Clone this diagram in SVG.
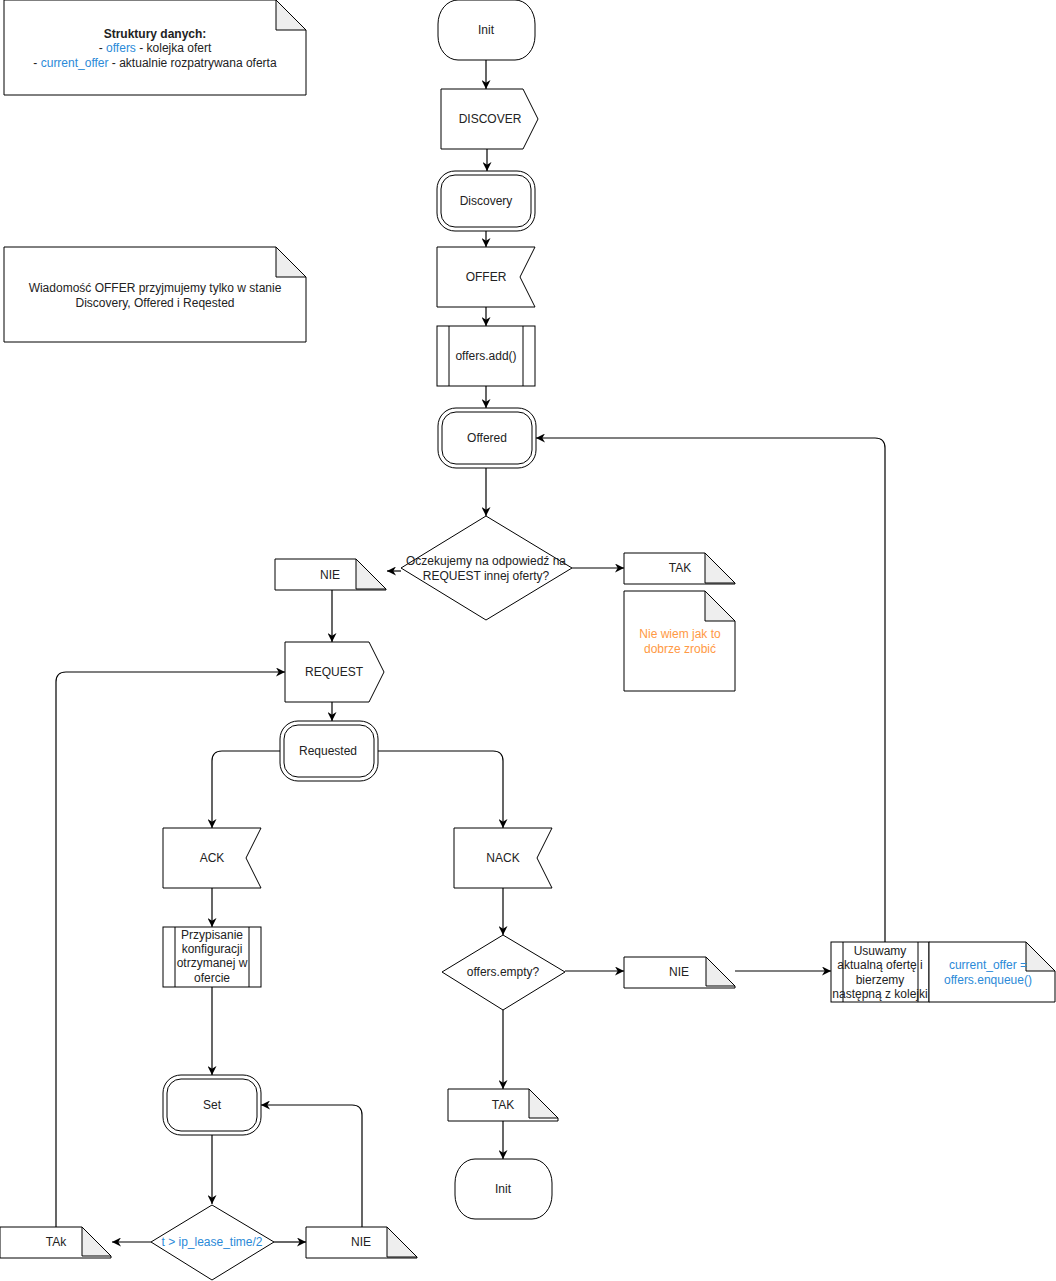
<svg xmlns="http://www.w3.org/2000/svg" width="1056" height="1281" viewBox="0 0 1056 1281">
<defs>
<marker id="arr" viewBox="0 0 10 10" refX="10" refY="5" markerWidth="9" markerHeight="9" orient="auto" markerUnits="userSpaceOnUse"><path d="M0,0 L10,5 L0,10 L3,5 z" fill="#000"/></marker>
</defs>
<style>
.s{fill:#fff;stroke:#000;stroke-width:1}
.fold{fill:#eee;stroke:#000;stroke-width:1}
.ln{fill:none;stroke:#000;stroke-width:1}
.c{fill:none;stroke:#000;stroke-width:1.2;marker-end:url(#arr)}
text{font-family:"Liberation Sans",Arial,sans-serif;font-size:12px;fill:#222;text-anchor:middle;dominant-baseline:middle;transform:translateY(1px)}
.b{font-weight:bold}
.blue{fill:#2B8AD8}
.or{fill:#FF9944}
</style>
<rect width="1056" height="1281" fill="#fff"/>

<g id="connectors">
<path class="c" d="M486,60 V89"/>
<path class="c" d="M487,149 V171"/>
<path class="c" d="M486,231 V247"/>
<path class="c" d="M486,307 V326"/>
<path class="c" d="M486,386 V408"/>
<path class="c" d="M486,468 V516"/>
<path class="c" d="M401,571 H387"/>
<path class="c" d="M572,568 H624"/>
<path class="c" d="M332,589 V642"/>
<path class="c" d="M332,702 V721"/>
<path class="c" d="M280,751 H222 Q212,751 212,761 V828"/>
<path class="c" d="M378,751 H493 Q503,751 503,761 V828"/>
<path class="c" d="M212,888 V927"/>
<path class="c" d="M212,987 V1075"/>
<path class="c" d="M212,1135 V1204"/>
<path class="c" d="M151,1242 H112"/>
<path class="c" d="M274,1242 H306"/>
<path class="c" d="M362,1227 V1115 Q362,1105 352,1105 H261"/>
<path class="c" d="M56,1227 V682 Q56,672 66,672 H285"/>
<path class="c" d="M503,888 V935"/>
<path class="c" d="M565,971 H624"/>
<path class="c" d="M735,971 H831"/>
<path class="c" d="M885,942 V448 Q885,438 875,438 H536"/>
<path class="c" d="M503,1010 V1089"/>
<path class="c" d="M503,1121 V1159"/>
</g>

<g id="note-struktury">
<path class="s" d="M4,0 H276 L306,30 V95 H4 Z"/>
<path class="fold" d="M276,0 V30 H306 Z"/>
<text x="155" y="34" class="b">Struktury danych:</text>
<text x="155" y="48">- <tspan class="blue">offers</tspan> - kolejka ofert</text>
<text x="155" y="63">- <tspan class="blue">current_offer</tspan> - aktualnie rozpatrywana oferta</text>
</g>

<g id="note-wiadomosc">
<path class="s" d="M4,247 H276 L306,277 V342 H4 Z"/>
<path class="fold" d="M276,247 V277 H306 Z"/>
<text x="155" y="288">Wiadomość OFFER przyjmujemy tylko w stanie</text>
<text x="155" y="303">Discovery, Offered i Reqested</text>
</g>

<g id="init-top">
<rect class="s" x="438" y="0" width="97" height="60" rx="20" ry="24"/>
<text x="486" y="30">Init</text>
</g>

<g id="discover">
<path class="s" d="M441,89 H523 L538,119 L523,149 H441 Z"/>
<text x="490" y="119">DISCOVER</text>
</g>

<g id="discovery">
<rect class="s" x="437" y="171" width="98" height="60" rx="18" ry="18"/>
<rect class="s" x="441" y="175" width="90" height="52" rx="14" ry="14"/>
<text x="486" y="201">Discovery</text>
</g>

<g id="offer">
<path class="s" d="M437,247 H535 L520,277 L535,307 H437 Z"/>
<text x="486" y="277">OFFER</text>
</g>

<g id="offers-add">
<rect class="s" x="437" y="326" width="98" height="60"/>
<path class="ln" d="M449,326 V386 M523,326 V386"/>
<text x="486" y="356">offers.add()</text>
</g>

<g id="offered">
<rect class="s" x="438" y="408" width="98" height="60" rx="18" ry="18"/>
<rect class="s" x="442" y="412" width="90" height="52" rx="14" ry="14"/>
<text x="487" y="438">Offered</text>
</g>

<g id="decision-oczekujemy">
<path class="s" d="M486,516 L572,568 L486,620 L401,568 Z"/>
<text x="486" y="561">Oczekujemy na odpowiedź na</text>
<text x="486" y="576">REQUEST innej oferty?</text>
</g>

<g id="note-nie-1">
<path class="s" d="M275,559 H356 L386,589 V590 H275 Z"/>
<path class="fold" d="M356,559 V589 H386 Z"/>
<text x="330" y="575">NIE</text>
</g>

<g id="note-tak-1">
<path class="s" d="M624,553 H705 L735,583 V584 H624 Z"/>
<path class="fold" d="M705,553 V583 H735 Z"/>
<text x="680" y="568">TAK</text>
</g>

<g id="note-nie-wiem">
<path class="s" d="M624,591 H705 L735,621 V691 H624 Z"/>
<path class="fold" d="M705,591 V621 H735 Z"/>
<text x="680" y="634" class="or">Nie wiem jak to</text>
<text x="680" y="649" class="or">dobrze zrobić</text>
</g>

<g id="request">
<path class="s" d="M285,642 H369 L384,672 L369,702 H285 Z"/>
<text x="334" y="672">REQUEST</text>
</g>

<g id="requested">
<rect class="s" x="280" y="721" width="98" height="60" rx="18" ry="18"/>
<rect class="s" x="284" y="725" width="90" height="52" rx="14" ry="14"/>
<text x="328" y="751">Requested</text>
</g>

<g id="ack">
<path class="s" d="M163,828 H261 L246,858 L261,888 H163 Z"/>
<text x="212" y="858">ACK</text>
</g>

<g id="nack">
<path class="s" d="M454,828 H552 L537,858 L552,888 H454 Z"/>
<text x="503" y="858">NACK</text>
</g>

<g id="przypisanie">
<rect class="s" x="163" y="927" width="98" height="60"/>
<path class="ln" d="M175,927 V987 M249,927 V987"/>
<text x="212" y="935">Przypisanie</text>
<text x="212" y="949">konfiguracji</text>
<text x="212" y="963">otrzymanej w</text>
<text x="212" y="978">ofercie</text>
</g>

<g id="set">
<rect class="s" x="163" y="1075" width="98" height="60" rx="18" ry="18"/>
<rect class="s" x="167" y="1079" width="90" height="52" rx="14" ry="14"/>
<text x="212" y="1105">Set</text>
</g>

<g id="decision-lease">
<path class="s" d="M212,1205 L274,1242 L212,1280 L151,1242 Z"/>
<text x="212" y="1242" class="blue">t &gt; ip_lease_time/2</text>
</g>

<g id="note-tak-left">
<path class="s" d="M0,1227 H82 L111,1256 V1258 H0 Z"/>
<path class="fold" d="M82,1227 V1256 H111 Z"/>
<text x="56" y="1242">TAk</text>
</g>

<g id="note-nie-bottom">
<path class="s" d="M306,1227 H387 L417,1257 V1258 H306 Z"/>
<path class="fold" d="M387,1227 V1257 H417 Z"/>
<text x="361" y="1242">NIE</text>
</g>

<g id="decision-empty">
<path class="s" d="M503,935 L565,972 L503,1010 L442,972 Z"/>
<text x="503" y="972">offers.empty?</text>
</g>

<g id="note-nie-right">
<path class="s" d="M624,957 H706 L735,986 V988 H624 Z"/>
<path class="fold" d="M706,957 V986 H735 Z"/>
<text x="679" y="972">NIE</text>
</g>

<g id="usuwamy">
<rect class="s" x="831" y="942" width="98" height="60"/>
<path class="ln" d="M843,942 V1002 M918,942 V1002"/>
<text x="880" y="951">Usuwamy</text>
<text x="880" y="965">aktualną ofertę i</text>
<text x="880" y="980">bierzemy</text>
<text x="880" y="994">następną z kolejki</text>
</g>

<g id="note-current-offer">
<path class="s" d="M929,942 H1026 L1055,971 V1002 H929 Z"/>
<path class="fold" d="M1026,942 V971 H1055 Z"/>
<text x="988" y="965" class="blue">current_offer =</text>
<text x="988" y="980" class="blue">offers.enqueue()</text>
</g>

<g id="note-tak-bottom">
<path class="s" d="M448,1089 H529 L558,1118 V1121 H448 Z"/>
<path class="fold" d="M529,1089 V1118 H558 Z"/>
<text x="503" y="1105">TAK</text>
</g>

<g id="init-bottom">
<rect class="s" x="455" y="1159" width="97" height="60" rx="20" ry="24"/>
<text x="503" y="1189">Init</text>
</g>
</svg>
